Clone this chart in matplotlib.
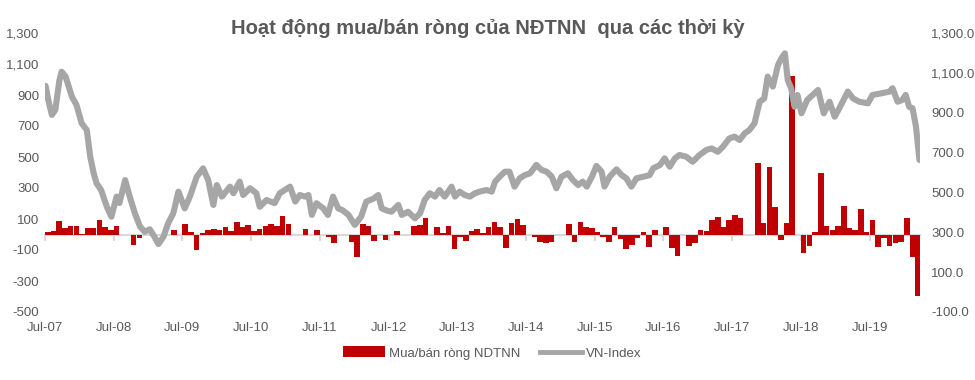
import numpy as np
import matplotlib
matplotlib.use("Agg")
import matplotlib.pyplot as plt
from matplotlib.patches import Patch
from matplotlib.lines import Line2D
from matplotlib.ticker import FuncFormatter

plt.rcParams['font.family'] = ['Liberation Sans Narrow', 'Liberation Sans', 'DejaVu Sans']

# monthly net buy/sell of foreign investors, Jul-2007 .. Mar-2020
net_flow = [
    15, 22, 86, 39, 54, 54, 6, 39, 39, 92, 47, 28,            # Jul07-Jun08
    54, 0, 0, -67, -21, 0, 0, 0, 0, 0, 28, 0,                 # Jul08-Jun09
    67, 13, -99, 9, 28, 34, 28, 47, 22, 80, 47, 60,           # Jul09-Jun10
    22, 34, 54, 67, 54, 118, 67, 0, 0, 34, 0, 28,             # Jul10-Jun11
    0, -15, -54, 0, 0, -47, -144, 67, 54, -43, 0, -34,        # Jul11-Jun12
    0, 22, 0, 0, 54, 60, 105, 0, 47, 9, 54, -92,              # Jul12-Jun13
    -15, -41, 22, 34, 9, 47, 80, 47, -86, 73, 99, 60,         # Jul13-Jun14
    0, -19, -47, -54, -47, 0, 0, 67, -47, 80, 47, 41,         # Jul14-Jun15
    15, -15, -47, 47, -28, -92, -67, -21, 15, -80, 28, 0,     # Jul15-Jun16
    47, -86, -138, 0, -73, -54, 28, 22, 92, 112, 47, 92,      # Jul16-Jun17
    125, 105, -6, 0, 460, 73, 434, 176, -34, 73, 1021, 0,     # Jul17-Jun18
    -118, -73, 15, 396, 54, 28, 54, 183, 41, 28, 163, 15,     # Jul18-Jun19
    92, -80, -21, -73, -54, -47, 105, -144, -398,             # Jul19-Mar20
]

# VN-Index: time in months since Jul-2007, index level
vn_t = [
    0.1, 0.6, 1.2, 1.8, 2.5, 2.9, 3.6, 4.7, 5.5, 6.4, 7.3, 7.9, 8.5, 9.0, 9.8,
    10.8, 11.6, 12.5, 13.0, 14.0, 14.8, 15.7, 16.6, 17.4, 18.3, 19.1, 19.8,
    20.7, 21.5, 22.4, 23.3, 24.4, 25.3, 26.5, 27.6, 28.5, 29.4, 30.0, 30.9,
    32.3, 32.9, 34.0, 34.6, 35.8, 36.9, 37.5, 38.7, 40.1, 41.0, 42.8, 43.7,
    44.5, 45.4, 46.0, 46.6, 47.4, 48.6, 49.4, 50.3, 51.2, 52.0, 53.0, 54.1,
    55.2, 56.1, 57.3, 58.2, 58.8, 59.6, 60.5, 61.7, 62.3, 63.4, 64.6, 65.5,
    66.3, 67.2, 68.1, 68.9, 69.8, 71.0, 71.6, 72.4, 73.3, 74.2, 75.1, 75.9,
    77.1, 78.0, 78.6, 79.4, 80.3, 81.1, 82.0, 82.9, 83.8, 84.7, 85.8, 86.7,
    87.6, 88.5, 89.3, 90.2, 91.3, 92.2, 93.1, 93.9, 94.6, 95.5, 96.3, 97.2,
    97.7, 98.6, 99.8, 100.7, 101.5, 102.4, 103.3, 104.5, 105.6, 106.2, 107.4,
    108.2, 109.1, 110.0, 110.8, 112.0, 113.1, 114.3, 115.5, 116.4, 117.5,
    118.4, 119.5, 120.4, 121.3, 122.2, 123.0, 123.9, 124.8, 125.6, 126.2,
    127.1, 128.0, 128.6, 129.2, 129.7, 130.3, 130.9, 131.4, 132.1, 133.1,
    135.0, 136.0, 137.0, 137.9, 138.7, 140.2, 141.1, 142.2, 143.7, 144.5,
    146.0, 147.5, 148.0, 148.9, 149.7, 150.3, 150.9, 151.5, 152.1, 152.7,
]
vn_index = [
    1035, 960, 889, 914, 1060, 1106, 1081, 980, 939, 847, 813, 679, 596, 546, 512,
    428, 378, 479, 447, 562, 479, 395, 328, 303, 315, 278, 241,
    278, 345, 395, 504, 420, 479, 579, 621, 562, 437, 537, 479,
    529, 496, 554, 487, 521, 496, 428, 462, 446, 496, 529, 454,
    487, 479, 487, 387, 446, 420, 387, 479, 420, 410, 387, 337,
    378, 454, 468, 487, 420, 410, 403, 437, 387, 403, 370, 395,
    462, 496, 479, 512, 479, 529, 479, 504, 487, 479, 496, 504,
    512, 504, 554, 579, 604, 604, 529, 571, 587, 596, 638, 613,
    604, 579, 521, 579, 596, 562, 537, 554, 529, 579, 633, 604,
    529, 579, 616, 587, 571, 529, 571, 579, 587, 621, 638,
    671, 629, 671, 688, 679, 654, 688, 713, 721, 704,
    730, 771, 780, 763, 797, 813, 847, 955, 972, 1081,
    1031, 1139, 1173, 1198, 1064, 1023, 930, 989, 897, 964,
    1014, 897, 955, 880, 922, 1006, 972, 955, 947, 989,
    997, 1006, 1023, 955, 964, 989, 930, 922, 830, 663,
]

year_labels = ['Jul-07', 'Jul-08', 'Jul-09', 'Jul-10', 'Jul-11', 'Jul-12', 'Jul-13',
               'Jul-14', 'Jul-15', 'Jul-16', 'Jul-17', 'Jul-18', 'Jul-19']

txt = '#595959'
bar_c = '#c00000'
line_c = '#a6a6a6'

fig = plt.figure(figsize=(9.75, 3.8), dpi=100)
ax = fig.add_axes([45 / 975, 1 - 312 / 380, 875 / 975, 279 / 380])
ax2 = ax.twinx()

months = np.arange(len(net_flow))
ax.bar(months, net_flow, width=0.97, align='edge', color=bar_c, zorder=3)
ax2.plot(vn_t, vn_index, color=line_c, lw=4.4, solid_joinstyle='round', solid_capstyle='round')

ax.set_xlim(0, 152.8)
ax.set_ylim(-500, 1300)
ax.set_yticks(np.arange(-500, 1301, 200))
ax.yaxis.set_major_formatter(FuncFormatter(lambda v, p: f'{v:,.0f}'))
ax2.set_ylim(-100, 1300)
ax2.set_yticks(np.arange(-100, 1301, 200))
ax2.yaxis.set_major_formatter(FuncFormatter(lambda v, p: f'{v:,.1f}'))

ax.set_xticks(np.arange(0, 145, 12))
ax.set_xticklabels(year_labels)

for a in (ax, ax2):
    for s in ('top', 'left', 'right', 'bottom'):
        a.spines[s].set_visible(False)
ax.spines['bottom'].set_visible(True)
ax.spines['bottom'].set_position(('data', 0))
ax.spines['bottom'].set_color('#d9d9d9')
ax.spines['bottom'].set_linewidth(1.5)
ax.spines['bottom'].set_zorder(2)

ax.tick_params(axis='x', direction='out', length=4, width=1.5, color='#d9d9d9',
               labelcolor=txt, labelsize=9.5, pad=59)
ax.tick_params(axis='y', length=0, labelcolor=txt, labelsize=9.5, pad=4)
ax2.tick_params(axis='y', length=0, labelcolor=txt, labelsize=9.5, pad=8)
ax2.tick_params(axis='x', length=0)

fig.text(0.5, 1 - 28 / 380, 'Hoạt động mua/bán ròng của NĐTNN  qua các thời kỳ',
         ha='center', va='center', fontsize=14.5, fontweight='bold', color=txt)

handles = [Patch(facecolor=bar_c, edgecolor='none'),
           Line2D([], [], color=line_c, lw=3.5)]
fig.legend(handles, ['Mua/bán ròng NDTNN', 'VN-Index'], loc='center',
           bbox_to_anchor=(0.505, 1 - 353 / 380), ncol=2, frameon=False,
           fontsize=9.5, labelcolor=txt, handlelength=3.2, handleheight=0.9,
           columnspacing=1.5, handletextpad=0.3)

fig.savefig('out.png', dpi=100)
